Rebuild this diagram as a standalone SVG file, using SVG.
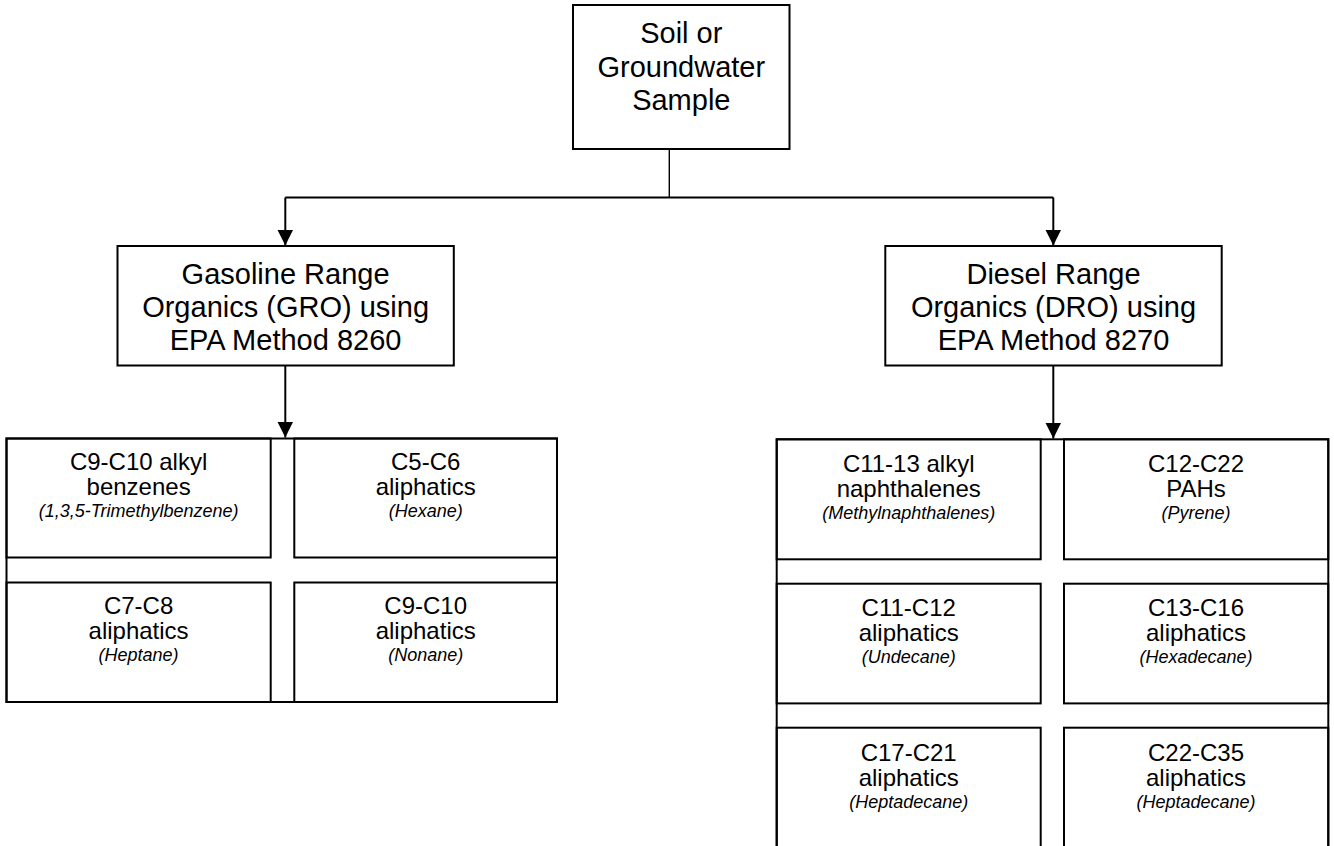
<svg xmlns="http://www.w3.org/2000/svg" width="1334" height="846" viewBox="0 0 1334 846">
<defs>
<style>
.box{fill:#fff;stroke:#000;stroke-width:2}
.cell{fill:none;stroke:#000;stroke-width:2}
.conn{fill:none;stroke:#000;stroke-width:2}
.big{font-family:"Liberation Sans",Arial,sans-serif;font-size:29px;fill:#000;text-anchor:middle}
.mid{font-family:"Liberation Sans",Arial,sans-serif;font-size:24px;fill:#000;text-anchor:middle}
.it{font-family:"Liberation Sans",Arial,sans-serif;font-size:18px;font-style:italic;fill:#000;text-anchor:middle}
</style>
<marker id="arr" viewBox="0 0 16 16" refX="16" refY="8" markerWidth="16" markerHeight="16" markerUnits="userSpaceOnUse" orient="auto">
<path d="M0,0 L16,8 L0,16 Z" fill="#000"/>
</marker>
</defs>
<rect width="1334" height="846" fill="#fff"/>

<g id="connectors">
<line class="conn" x1="669.3" y1="149" x2="669.3" y2="197.5" style="stroke-width:1.4"/>
<line class="conn" x1="285.3" y1="197.5" x2="1053.3" y2="197.5"/>
<line class="conn" x1="285.3" y1="197.5" x2="285.3" y2="245.5" marker-end="url(#arr)"/>
<line class="conn" x1="1053.3" y1="197.5" x2="1053.3" y2="245.5" marker-end="url(#arr)"/>
<line class="conn" x1="285.3" y1="365.5" x2="285.3" y2="437.5" marker-end="url(#arr)"/>
<line class="conn" x1="1053.3" y1="365.5" x2="1053.3" y2="438.5" marker-end="url(#arr)"/>
</g>

<g id="sample">
<rect class="box" x="573" y="5" width="216.5" height="144"/>
<text class="big" x="681.3" y="43">Soil or</text>
<text class="big" x="681.3" y="77">Groundwater</text>
<text class="big" x="681.3" y="110">Sample</text>
</g>

<g id="gro">
<rect class="box" x="117.5" y="246" width="336.3" height="119.5"/>
<text class="big" x="285.6" y="284">Gasoline Range</text>
<text class="big" x="285.6" y="317">Organics (GRO) using</text>
<text class="big" x="285.6" y="350">EPA Method 8260</text>
</g>

<g id="dro">
<rect class="box" x="885.3" y="246" width="336.4" height="119.5"/>
<text class="big" x="1053.5" y="284">Diesel Range</text>
<text class="big" x="1053.5" y="317">Organics (DRO) using</text>
<text class="big" x="1053.5" y="350">EPA Method 8270</text>
</g>

<g id="gro-table">
<rect class="cell" x="6.5" y="438.5" width="550.5" height="263.5"/>
</g>
<g id="gro-c9c10-alkyl">
<rect class="cell" x="6.5" y="438.5" width="264.2" height="119"/>
<text class="mid" x="138.6" y="470">C9-C10 alkyl</text>
<text class="mid" x="138.6" y="495">benzenes</text>
<text class="it" x="138.6" y="517">(1,3,5-Trimethylbenzene)</text>
</g>
<g id="gro-c5c6">
<rect class="cell" x="294.3" y="438.5" width="262.7" height="119"/>
<text class="mid" x="425.7" y="470">C5-C6</text>
<text class="mid" x="425.7" y="495">aliphatics</text>
<text class="it" x="425.7" y="517">(Hexane)</text>
</g>
<g id="gro-c7c8">
<rect class="cell" x="6.5" y="582.5" width="264.2" height="119.5"/>
<text class="mid" x="138.6" y="614">C7-C8</text>
<text class="mid" x="138.6" y="639">aliphatics</text>
<text class="it" x="138.6" y="661">(Heptane)</text>
</g>
<g id="gro-c9c10">
<rect class="cell" x="294.3" y="582.5" width="262.7" height="119.5"/>
<text class="mid" x="425.7" y="614">C9-C10</text>
<text class="mid" x="425.7" y="639">aliphatics</text>
<text class="it" x="425.7" y="661">(Nonane)</text>
</g>

<g id="dro-table">
<rect class="cell" x="776.7" y="439.3" width="551.6" height="420"/>
</g>
<g id="dro-c11-13">
<rect class="cell" x="776.7" y="439.3" width="264" height="120"/>
<text class="mid" x="908.7" y="472">C11-13 alkyl</text>
<text class="mid" x="908.7" y="497">naphthalenes</text>
<text class="it" x="908.7" y="519">(Methylnaphthalenes)</text>
</g>
<g id="dro-c12c22">
<rect class="cell" x="1064" y="439.3" width="264.3" height="120"/>
<text class="mid" x="1196" y="472">C12-C22</text>
<text class="mid" x="1196" y="497">PAHs</text>
<text class="it" x="1196" y="519">(Pyrene)</text>
</g>
<g id="dro-c11c12">
<rect class="cell" x="776.7" y="583.7" width="264" height="119.7"/>
<text class="mid" x="908.7" y="616">C11-C12</text>
<text class="mid" x="908.7" y="641">aliphatics</text>
<text class="it" x="908.7" y="663">(Undecane)</text>
</g>
<g id="dro-c13c16">
<rect class="cell" x="1064" y="583.7" width="264.3" height="119.7"/>
<text class="mid" x="1196" y="616">C13-C16</text>
<text class="mid" x="1196" y="641">aliphatics</text>
<text class="it" x="1196" y="663">(Hexadecane)</text>
</g>
<g id="dro-c17c21">
<rect class="cell" x="776.7" y="727.7" width="264" height="130"/>
<text class="mid" x="908.7" y="761">C17-C21</text>
<text class="mid" x="908.7" y="786">aliphatics</text>
<text class="it" x="908.7" y="808">(Heptadecane)</text>
</g>
<g id="dro-c22c35">
<rect class="cell" x="1064" y="727.7" width="264.3" height="130"/>
<text class="mid" x="1196" y="761">C22-C35</text>
<text class="mid" x="1196" y="786">aliphatics</text>
<text class="it" x="1196" y="808">(Heptadecane)</text>
</g>
</svg>
